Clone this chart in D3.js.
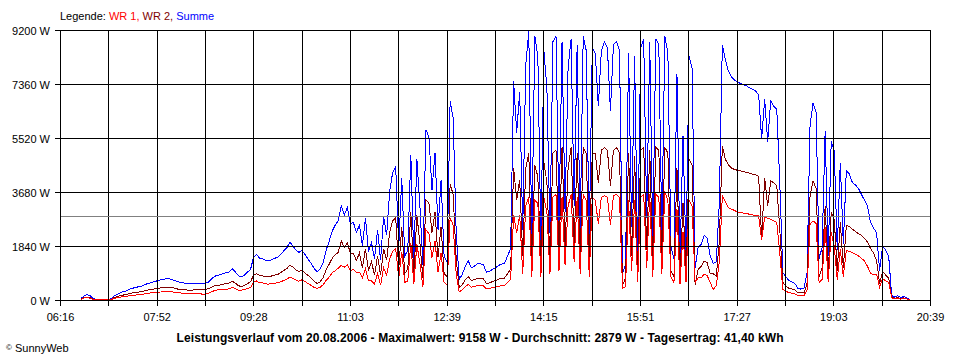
<!DOCTYPE html>
<html>
<head>
<meta charset="utf-8">
<script src="https://cdn.jsdelivr.net/npm/d3@7"></script>
<style>
  body { margin: 0; background: #fff; }
  svg text { font-family: "Liberation Sans", Arial, sans-serif; font-size: 11px; }
</style>
</head>
<body>
<div id="container"></div>
<script>
/* Leistungsverlauf SunnyWeb */

// axe des temps
const heureDebut = '06:16'
const heureFin = '20:39'
const xLabels = ['06:16', '07:52', '09:28', '11:03', '12:39', '14:15', '15:51', '17:27', '19:03', '20:39']

// axe des puissances (W)
const yTicks = [0, 1840, 3680, 5520, 7360, 9200]
const moyenne = 2879

// mesures : première mesure à 06:37, puis toutes les 3 minutes
const premiereMesure = '06:37'
const pasMinutes = 3

const wr1 = [
  20, 70, 80, 60, 20, 10, 10, 10, 10, 10,
  20, 60, 80, 100, 120, 120, 150, 160, 170, 180,
  190, 210, 220, 240, 250, 260, 270, 280, 290, 290,
  280, 260, 250, 240, 230, 230, 220, 220, 220, 220,
  200, 200, 220, 270, 320, 340, 350, 360, 370, 380,
  430, 380, 340, 340, 350, 390, 420, 600, 650, 580,
  580, 550, 540, 560, 570, 590, 620, 670, 710, 780,
  730, 680, 640, 690, 630, 560, 500, 430, 400, 430,
  520, 670, 780, 930, 1000, 1080, 1180, 1120, 1200, 1000,
  1050, 950, 950, 750, 1050, 650, 650, 550, 900, 500,
  1100, 850, 1400, 1650, 1750, 750, 1650, 600, 650, 1950,
  550, 1900, 1250, 450, 2400, 2250, 1450, 2000, 950, 1600,
  600, 500, 2800, 2550, 900, 270, 350, 460, 530, 440,
  460, 500, 490, 480, 380, 390, 420, 440, 470, 490,
  500, 600, 700, 2900, 2300, 2900, 900, 3200, 3500, 800,
  3400, 3300, 800, 3500, 3000, 900, 3500, 3600, 1000, 3500,
  1200, 3200, 3600, 1300, 3500, 900, 3600, 3400, 800, 3500,
  3400, 2600, 3500, 3550, 3500, 2550, 3550, 3600, 3500, 400,
  450, 3400, 1000, 3400, 600, 3500, 3600, 1100, 3600, 800,
  3600, 3500, 900, 3700, 3400, 800, 600, 3100, 550, 2300,
  600, 3400, 3200, 600, 750, 750, 880, 830, 600, 350,
  500, 1300, 3550, 3350, 3150, 3100, 3050, 3000, 2980, 2960,
  2950, 2920, 2900, 2880, 2880, 2050, 2810, 2790, 2750, 2700,
  2650, 1600, 370, 300, 250, 230, 210, 150, 140, 150,
  350, 2580, 2700, 2600, 600, 700, 2500, 600, 2300, 1840,
  700, 1730, 800, 1690, 1660, 1620, 1560, 1500, 1420, 1330,
  1150, 900, 870, 880, 440, 720, 660, 600, 70, 40,
  60, 30, 50, 40, 0
]

const wr2 = [
  30, 80, 100, 80, 20, 20, 20, 20, 20, 20,
  20, 90, 120, 150, 170, 190, 220, 240, 260, 270,
  280, 310, 340, 350, 370, 390, 410, 420, 430, 440,
  420, 400, 370, 360, 350, 340, 340, 340, 350, 350,
  360, 370, 380, 430, 480, 500, 510, 540, 560, 580,
  640, 570, 490, 450, 500, 560, 620, 850, 900, 840,
  820, 800, 790, 820, 850, 870, 930, 1010, 1070, 1190,
  1120, 1020, 980, 1010, 920, 840, 750, 650, 560, 620,
  760, 1030, 1220, 1420, 1550, 1620, 2020, 1780, 1950, 1600,
  1600, 1350, 1600, 1100, 1750, 1000, 1300, 850, 1500, 850,
  1750, 1350, 2300, 2700, 2800, 1050, 2500, 900, 1050, 3000,
  850, 2900, 1950, 750, 3400, 3300, 2300, 3000, 1450, 2500,
  900, 800, 3950, 3600, 1400, 430, 520, 690, 800, 660,
  690, 740, 740, 720, 570, 580, 630, 660, 710, 730,
  750, 900, 1050, 4500, 3400, 4100, 1500, 4500, 5000, 1300,
  4600, 4200, 1200, 4700, 4000, 1400, 5000, 5100, 1500, 5200,
  1800, 4500, 5200, 1900, 5000, 1400, 5200, 5000, 1300, 5000,
  5000, 4000, 5100, 5200, 5100, 3900, 5100, 5200, 5000, 500,
  750, 5000, 1500, 4900, 800, 5100, 5200, 1700, 5100, 1200,
  5200, 5100, 1400, 5200, 5000, 1000, 800, 4500, 750, 3300,
  900, 4800, 4600, 500, 1050, 1150, 1320, 1270, 900, 900,
  800, 2000, 5250, 4800, 4600, 4500, 4450, 4420, 4400, 4380,
  4350, 4320, 4290, 4260, 4220, 2100, 4170, 3200, 4060, 3990,
  3900, 2400, 600, 480, 400, 380, 340, 250, 240, 250,
  550, 3550, 4060, 3800, 800, 1100, 3200, 900, 3000, 2750,
  1000, 2640, 1100, 2540, 2500, 2410, 2340, 2260, 2200, 2100,
  1980, 1750, 1600, 1350, 560, 980, 850, 750, 80, 60,
  80, 50, 70, 40, 0
]

const summe = [
  50, 150, 180, 140, 40, 30, 30, 30, 30, 30,
  40, 150, 200, 250, 290, 310, 370, 400, 430, 450,
  470, 520, 560, 590, 620, 650, 680, 700, 720, 730,
  700, 660, 620, 600, 580, 570, 560, 560, 570, 570,
  560, 570, 600, 700, 800, 840, 860, 900, 930, 960,
  1070, 950, 830, 790, 850, 950, 1040, 1450, 1550, 1420,
  1400, 1350, 1330, 1380, 1420, 1460, 1550, 1680, 1780, 1970,
  1850, 1700, 1620, 1700, 1550, 1400, 1250, 1080, 960, 1050,
  1280, 1700, 2000, 2350, 2550, 2700, 3200, 2900, 3150, 2600,
  2650, 2300, 2550, 1850, 2800, 1650, 1950, 1400, 2400, 1350,
  2850, 2200, 3700, 4350, 4550, 1800, 4150, 1500, 1700, 4950,
  1400, 4800, 3200, 1200, 5800, 5550, 3750, 5000, 2400, 4100,
  1500, 1300, 6770, 6200, 2300, 700, 870, 1150, 1330, 1100,
  1150, 1240, 1230, 1200, 950, 970, 1050, 1100, 1180, 1220,
  1250, 1500, 1750, 7450, 5700, 7100, 2400, 8000, 9150, 2100,
  9000, 8300, 2000, 8500, 7200, 2300, 8800, 9000, 2600, 8800,
  3000, 7900, 8900, 3200, 8700, 2300, 9000, 8500, 2100, 8600,
  8400, 6600, 8500, 8800, 8600, 6450, 8700, 8800, 8500, 900,
  1200, 8400, 2500, 8300, 1400, 8600, 8900, 2800, 8800, 2000,
  8900, 8700, 2300, 9000, 8400, 1800, 1400, 7700, 1300, 5600,
  1500, 8300, 7900, 1100, 1800, 1900, 2200, 2100, 1500, 1250,
  1300, 3300, 8700, 8200, 7800, 7600, 7500, 7420, 7380, 7340,
  7300, 7230, 7180, 7120, 7000, 5500, 6850, 5400, 6780, 6600,
  6500, 4000, 940, 800, 660, 620, 560, 400, 370, 400,
  900, 5930, 6720, 6400, 1400, 1800, 5750, 1500, 5400, 5100,
  1700, 4680, 1900, 4400, 4300, 4000, 3920, 3800, 3600, 3400,
  3200, 2650, 2450, 2300, 1000, 1850, 1700, 1500, 150, 100,
  150, 80, 120, 80, 0
]

const seriesNames = ['WR 1', 'WR 2', 'Summe']
const seriesColors = ['#ff0000', '#800000', '#0000ff']

const titre = 'Leistungsverlauf vom 20.08.2006 - Maximalwert: 9158 W - Durchschnitt: 2879 W - Tagesertrag: 41,40 kWh'
const copyright = 'SunnyWeb'


const parseHeure = d3.timeParse('%H:%M')


/**
 * dessine le graphique complet
 */
function displayChart() {
  const width = 960,
    height = 360
  const margin = { top: 30, right: 30, bottom: 60, left: 60 }

  const svg = d3.select('#container').append('svg')
    .attr('id', 'svg')
    .attr('width', width)
    .attr('height', height)

  svg.append('rect')
    .attr('width', width)
    .attr('height', height)
    .attr('fill', '#fff')

  const t0 = parseHeure(heureDebut)
  const t1 = parseHeure(heureFin)
  const tStart = parseHeure(premiereMesure)

  const x = d3.scaleTime()
    .domain([t0, t1])
    .range([margin.left, width - margin.right])

  const y = d3.scaleLinear()
    .domain([0, d3.max(yTicks)])
    .range([height - margin.bottom, margin.top])

  // temps de chaque mesure
  const temps = summe.map((d, i) => d3.timeMinute.offset(tStart, i * pasMinutes))

  // courbes : Summe, puis WR 2, puis WR 1 par dessus
  const series = [wr1, wr2, summe]
  const ordre = [2, 1, 0]
  const line = d3.line()
    .x((d, i) => x(temps[i]))
    .y(d => y(d))

  const courbes = svg.append('g').attr('id', 'courbes')
  ordre.forEach(k => {
    courbes.append('path')
      .datum(series[k])
      .attr('d', line)
      .attr('fill', 'none')
      .attr('stroke', seriesColors[k])
      .attr('stroke-width', 1)
      .attr('shape-rendering', 'crispEdges')
  })

  // grille : 18 intervalles égaux sur l'axe des temps
  const nIntervalles = (xLabels.length - 1) * 2
  const tickDates = d3.range(nIntervalles + 1)
    .map(k => new Date(t0.getTime() + k * (t1 - t0) / nIntervalles))

  const grille = svg.append('g')
    .attr('id', 'grille')
    .attr('stroke', '#000')
    .attr('shape-rendering', 'crispEdges')

  tickDates.forEach(t => {
    grille.append('line')
      .attr('x1', Math.round(x(t)) + 0.5)
      .attr('x2', Math.round(x(t)) + 0.5)
      .attr('y1', y(d3.max(yTicks)) + 0.5)
      .attr('y2', y(0) + 6)
  })

  yTicks.forEach(v => {
    grille.append('line')
      .attr('x1', x(t0) - 5)
      .attr('x2', x(t1) + 1)
      .attr('y1', y(v) + 0.5)
      .attr('y2', y(v) + 0.5)
  })

  // ligne de la moyenne
  svg.append('line')
    .attr('x1', x(t0) + 1)
    .attr('x2', x(t1))
    .attr('y1', Math.round(y(moyenne)) + 0.5)
    .attr('y2', Math.round(y(moyenne)) + 0.5)
    .attr('stroke', '#808080')
    .attr('shape-rendering', 'crispEdges')

  // étiquettes de l'axe des puissances
  svg.append('g')
    .selectAll('text')
    .data(yTicks)
    .enter().append('text')
    .attr('x', x(t0) - 10)
    .attr('y', d => y(d) + 5)
    .attr('text-anchor', 'end')
    .attr('fill', '#000')
    .text(d => d + ' W')

  // étiquettes de l'axe des temps (une graduation sur deux)
  svg.append('g')
    .selectAll('text')
    .data(xLabels)
    .enter().append('text')
    .attr('x', (d, i) => x(tickDates[i * 2]) + 0.5)
    .attr('y', y(0) + 21)
    .attr('text-anchor', 'middle')
    .attr('fill', '#000')
    .text(d => d)

  // légende
  const legende = svg.append('text')
    .attr('x', margin.left)
    .attr('y', 20)
  legende.append('tspan').attr('fill', '#000').text('Legende: ')
  seriesNames.forEach((n, i) => {
    legende.append('tspan')
      .attr('fill', seriesColors[i])
      .text(n + (i < seriesNames.length - 1 ? ', ' : ''))
  })

  // titre
  svg.append('text')
    .attr('x', width / 2)
    .attr('y', 342)
    .attr('text-anchor', 'middle')
    .attr('font-weight', 'bold')
    .style('font-size', '12px')
    .attr('textLength', 607)
    .attr('lengthAdjust', 'spacing')
    .attr('fill', '#000')
    .text(titre)

  // copyright
  const copy = svg.append('text')
    .attr('x', 6)
    .attr('y', 352)
    .attr('fill', '#000')
  copy.append('tspan').style('font-size', '8px').attr('dy', -2).text('\u00a9')
  copy.append('tspan').attr('dy', 2).text(' ' + copyright)
}

displayChart()
</script>
</body>
</html>
